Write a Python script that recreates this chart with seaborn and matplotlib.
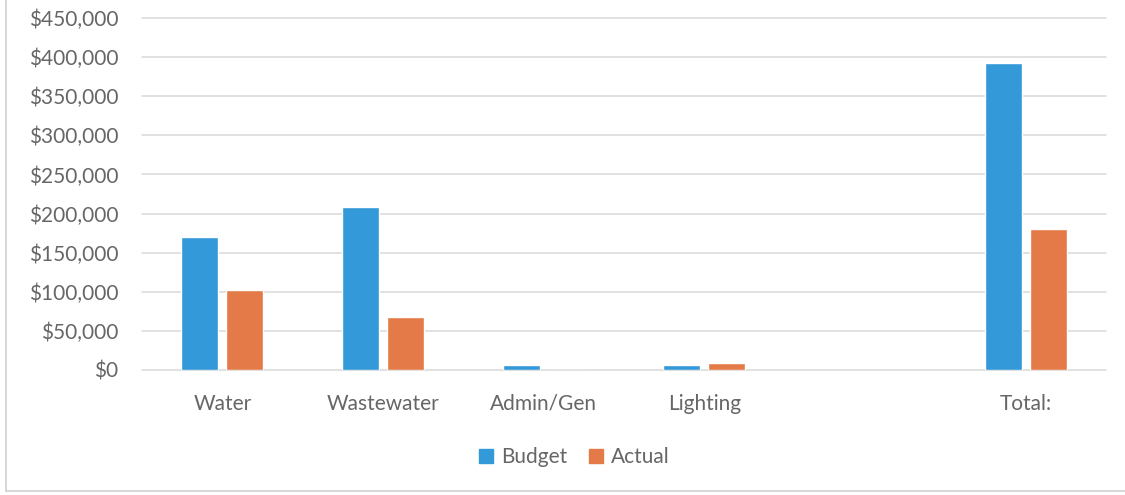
import matplotlib
matplotlib.use("Agg")
import matplotlib.pyplot as plt
from matplotlib.lines import Line2D
from matplotlib.ticker import FuncFormatter
import pandas as pd
import seaborn as sns

# Budget vs. actual spending by department
categories = ["Water", "Wastewater", "Admin/Gen", "Lighting", " ", "Total:"]
budget = [170000, 209000, 7000, 6000, None, 392000]
actual = [102000, 68000, 0, 9000, None, 180000]
series = ["Budget", "Actual"]
colors = ["#3399D9", "#E37A48"]
yticks = [0, 50000, 100000, 150000, 200000, 250000, 300000, 350000, 400000, 450000]

sns.set_theme(style="white")
plt.rcParams["font.family"] = ["Lato", "DejaVu Sans"]

df = pd.DataFrame({
    "Category": categories * 2,
    "Amount": budget + actual,
    "Series": [series[0]] * len(categories) + [series[1]] * len(categories),
})

fig = plt.figure(figsize=(11.25, 4.95), dpi=100)
ax = fig.add_axes([142 / 1125, 125 / 495, 964 / 1125, 352 / 495])

sns.barplot(
    data=df, x="Category", y="Amount", hue="Series",
    order=categories, hue_order=series, palette=colors,
    width=0.5625, gap=0.18, saturation=1, legend=False, ax=ax,
)

ax.set_ylim(0, 450000)
ax.set_xlim(-0.5, len(categories) - 0.5)
ax.set_yticks(yticks)
ax.yaxis.set_major_formatter(FuncFormatter(lambda v, _: f"${v:,.0f}"))
ax.set_xlabel("")
ax.set_ylabel("")

for y in yticks:
    ax.axhline(y, color="#d9d9d9", lw=1.1, zorder=0, clip_on=False)

for s in ax.spines.values():
    s.set_visible(False)

tick_color = "#666666"
ax.tick_params(axis="y", length=0, pad=17, labelsize=15, labelcolor=tick_color)
ax.tick_params(axis="x", length=0, pad=17, labelsize=15, labelcolor=tick_color)

handles = [Line2D([], [], marker="s", ls="", markersize=10,
                  markerfacecolor=c, markeredgecolor=c) for c in colors]
fig.legend(handles, series, loc="center", bbox_to_anchor=(0.51, 38 / 495),
           ncol=2, frameon=False, fontsize=15, handletextpad=0.3,
           handlelength=0.8, columnspacing=1.0, labelcolor=tick_color)

# chart frame on the left and bottom edges
fig.add_artist(Line2D([6 / 1125, 6 / 1125], [4 / 495, 1.0], color="#d0d0d0", lw=1.2))
fig.add_artist(Line2D([6 / 1125, 1.0], [4 / 495, 4 / 495], color="#d0d0d0", lw=1.2))

fig.savefig("out.png", dpi=100, facecolor="white")
